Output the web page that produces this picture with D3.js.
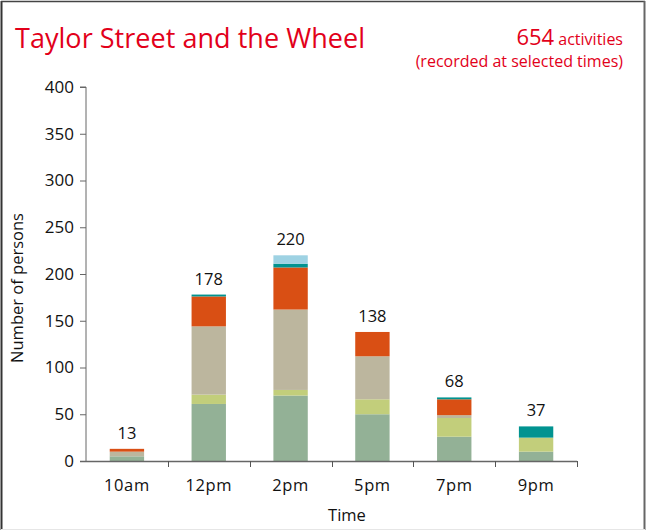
<!DOCTYPE html>
<html>
<head>
<meta charset="utf-8">
<script src="https://cdn.jsdelivr.net/npm/d3@7"></script>
<style>
  html, body { margin: 0; padding: 0; background: #fff; }
  svg { display: block; }
  text { font-family: "Open Sans", "Noto Sans", sans-serif; }
</style>
</head>
<body>
<svg id="chart" width="649" height="531"></svg>
<script>
// Time slots and activity counts per group (stacked from the bottom up)
const times = ["10am", "12pm", "2pm", "5pm", "7pm", "9pm"];
const greenVals = [5, 61, 70, 50, 26, 10];
const yellowVals = [0, 10, 6, 16, 20, 15];
const beigeVals = [5, 73, 86, 46, 3, 0];
const orangeVals = [3, 32, 45, 26, 17, 0];
const tealVals = [0, 2, 4, 0, 2, 12];
const blueVals = [0, 0, 9, 0, 0, 0];
const yTicks = [0, 50, 100, 150, 200, 250, 300, 350, 400];

const seriesKeys = ["green", "yellow", "beige", "orange", "teal", "blue"];
const seriesColors = ["#93b196", "#c2ce7b", "#bcb69e", "#d94f14", "#019390", "#9ed2e3"];
const seriesVals = [greenVals, yellowVals, beigeVals, orangeVals, tealVals, blueVals];

const rows = times.map((t, i) => {
  const r = { time: t };
  seriesKeys.forEach((k, j) => r[k] = seriesVals[j][i]);
  return r;
});
const totals = rows.map(r => d3.sum(seriesKeys, k => r[k]));
const grandTotal = d3.sum(totals);

const svg = d3.select("#chart");

// frame
svg.append("line").attr("x1", 1.5).attr("x2", 1.5).attr("y1", 1).attr("y2", 530)
  .attr("stroke", "#333").attr("stroke-width", 2);
svg.append("line").attr("x1", 1).attr("x2", 645).attr("y1", 1.5).attr("y2", 1.5)
  .attr("stroke", "#444").attr("stroke-width", 1.5);
svg.append("line").attr("x1", 644.5).attr("x2", 644.5).attr("y1", 1).attr("y2", 530)
  .attr("stroke", "#666").attr("stroke-width", 2);
svg.append("line").attr("x1", 1).attr("x2", 645).attr("y1", 529.5).attr("y2", 529.5)
  .attr("stroke", "#e6e6e6").attr("stroke-width", 1);

const x0 = 86, x1 = 577, yBase = 461, yTop = 87;
const x = d3.scaleBand().domain(times).range([x0, x1]).padding(0);
const y = d3.scaleLinear().domain([0, 400]).range([yBase, yTop]);
const barW = x.bandwidth() * 0.42;

// stacked bars
const stack = d3.stack().keys(seriesKeys)(rows);
svg.append("g").selectAll("g").data(stack).join("g")
  .attr("fill", (d, i) => seriesColors[i])
  .selectAll("rect").data(d => d).join("rect")
  .attr("x", d => x(d.data.time) + (x.bandwidth() - barW) / 2)
  .attr("width", barW)
  .attr("y", d => y(d[1]))
  .attr("height", d => y(d[0]) - y(d[1]));

// total labels above bars
svg.append("g").selectAll("text").data(rows).join("text")
  .attr("x", d => x(d.time) + x.bandwidth() / 2)
  .attr("y", (d, i) => y(totals[i]) - 10)
  .attr("text-anchor", "middle")
  .attr("font-size", 16.5)
  .attr("fill", "#111")
  .text((d, i) => totals[i]);

// y axis
const yAxis = d3.axisLeft(y).tickValues(yTicks).tickSize(6).tickPadding(6);
const gy = svg.append("g").attr("transform", `translate(${x0},0)`).call(yAxis);
gy.select(".domain").attr("stroke", "#666").attr("d", `M-6,${yTop}H0V${yBase}`);
gy.selectAll(".tick line").attr("stroke", "#666");
gy.selectAll(".tick text").attr("font-size", 17).attr("fill", "#111")
  .attr("font-family", "'Open Sans', sans-serif");

// x axis: ticks at band boundaries
svg.append("line").attr("x1", x0 - 6).attr("x2", x1).attr("y1", yBase + 0.5).attr("y2", yBase + 0.5)
  .attr("stroke", "#666").attr("stroke-width", 1.5);
const bounds = times.map(t => x(t) + x.bandwidth());
svg.append("g").selectAll("line").data(bounds).join("line")
  .attr("x1", d => Math.round(d) + 0.5).attr("x2", d => Math.round(d) + 0.5)
  .attr("y1", yBase).attr("y2", yBase + 6)
  .attr("stroke", "#555");
svg.append("g").selectAll("text").data(times).join("text")
  .attr("x", d => x(d) + x.bandwidth() / 2)
  .attr("y", 491)
  .attr("text-anchor", "middle")
  .attr("font-size", 16.5)
  .attr("fill", "#111")
  .attr("letter-spacing", 0.6)
  .text(d => d);

// axis titles
svg.append("text").attr("x", 347).attr("y", 521).attr("text-anchor", "middle")
  .attr("font-size", 16.5).attr("fill", "#111").text("Time");
svg.append("text").attr("transform", "translate(23,288) rotate(-90)")
  .attr("text-anchor", "middle").attr("font-size", 16.5).attr("fill", "#111")
  .text("Number of persons");

// title and total
const red = "#e2001a";
const narrow = "'Liberation Sans Narrow', 'DejaVu Sans Condensed', sans-serif";
svg.append("text").attr("x", 15).attr("y", 48)
  .attr("font-family", narrow)
  .attr("font-size", 27).attr("fill", red)
  .attr("textLength", 350).attr("lengthAdjust", "spacing")
  .text("Taylor Street and the Wheel");

const sub = svg.append("text").attr("x", 623).attr("y", 45).attr("text-anchor", "end")
  .attr("font-family", narrow)
  .attr("fill", red);
sub.append("tspan").attr("font-size", 22).text(grandTotal);
sub.append("tspan").attr("font-size", 16).text(" activities");
svg.append("text").attr("x", 623).attr("y", 67).attr("text-anchor", "end")
  .attr("font-family", narrow)
  .attr("font-size", 16).attr("fill", red)
  .text("(recorded at selected times)");
</script>
</body>
</html>
